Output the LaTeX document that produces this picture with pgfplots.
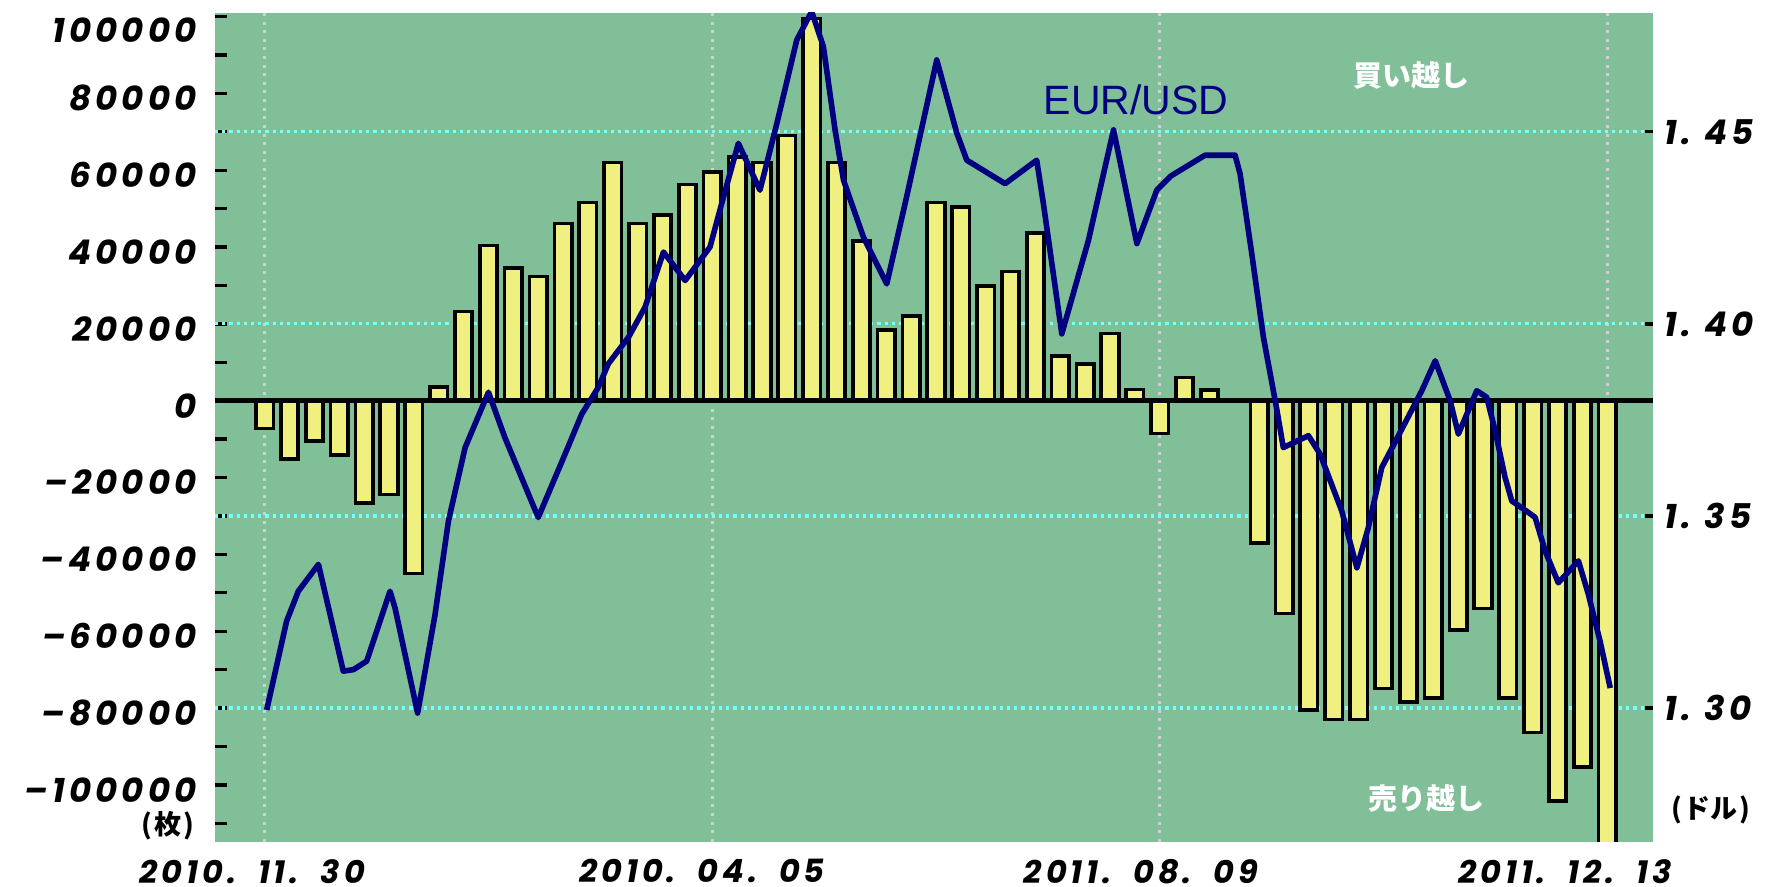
\documentclass[border=0pt]{standalone}
\usepackage{fontspec}
\usepackage{pgfplots}
\usepackage{pgfplotstable}
\pgfplotsset{compat=1.18}
\setmainfont{Liberation Sans}
\newfontfamily\tickfont[LetterSpace=12]{Poppins}
\newfontfamily\jpfont{Noto Sans CJK JP}
\definecolor{bg}{RGB}{128,191,152}
\definecolor{baryel}{RGB}{240,240,128}
\definecolor{navyline}{RGB}{0,0,128}
\definecolor{gridcyan}{RGB}{120,255,255}
\definecolor{gridgray}{RGB}{208,208,208}
\newcommand{\tfy}{\tickfont\bfseries\itshape\fontsize{17}{17}\selectfont}
\newcommand{\tfx}{\tickfont\bfseries\itshape\fontsize{16}{16}\selectfont}

\pgfplotstableread{
x y
0 -7200
1 -15200
2 -10500
3 -14200
4 -26700
5 -24400
6 -45000
7 3600
8 23200
9 40400
10 34600
11 32300
12 46100
13 51600
14 62000
15 46100
16 48400
17 56300
18 59600
19 63500
20 62000
21 69000
22 99500
23 62000
24 41600
25 18400
26 22000
27 51600
28 50500
29 29900
30 33600
31 43700
32 11600
33 9500
34 17500
35 2900
36 -8500
37 6000
38 2800
40 -37000
41 -55400
42 -80600
43 -83000
44 -83000
45 -74900
46 -78400
47 -77300
48 -59700
49 -54100
50 -77300
51 -86400
52 -104200
53 -95300
54 -125000
}\netpos

\pgfplotstableread{
x r
0.08 1.2995
0.88 1.3226
1.35 1.3304
2.16 1.3374
3.16 1.3096
3.57 1.3100
4.10 1.3122
5.04 1.3304
5.24 1.3261
6.15 1.2987
6.38 1.3070
6.85 1.3243
7.39 1.3487
8.06 1.3678
9.00 1.3822
9.66 1.3704
11.00 1.3496
12.08 1.3661
12.75 1.3765
13.42 1.3835
13.82 1.3896
14.63 1.3965
15.30 1.4044
16.04 1.4187
16.91 1.4113
17.51 1.4165
17.91 1.4200
18.38 1.4313
19.05 1.4470
19.92 1.4348
20.60 1.4522
21.40 1.4739
22.00 1.4813
22.47 1.4722
22.94 1.4505
23.28 1.4374
24.08 1.4226
25.02 1.4104
25.82 1.4331
27.03 1.4687
27.84 1.4496
28.24 1.4426
29.78 1.4365
31.05 1.4426
31.32 1.4313
32.06 1.3974
33.13 1.4217
34.14 1.4505
35.08 1.4209
35.88 1.4348
36.45 1.4385
37.82 1.4439
39.03 1.4439
39.23 1.4391
39.70 1.4183
40.17 1.3965
40.70 1.3780
40.97 1.3678
41.98 1.3709
42.45 1.3661
43.32 1.3513
43.93 1.3365
44.39 1.3470
44.93 1.3626
45.60 1.3709
46.54 1.3826
47.08 1.3904
47.68 1.3800
48.01 1.3713
48.75 1.3826
49.15 1.3809
49.49 1.3722
49.89 1.3600
50.16 1.3539
50.83 1.3509
51.10 1.3496
51.50 1.3409
52.03 1.3326
52.84 1.3383
53.24 1.3296
53.71 1.3174
54.12 1.3052
}\eurusd

\begin{document}
\begin{tikzpicture}
\begin{axis}[
  scale only axis, width=719pt, height=414.5pt,
  xmin=-2, xmax=55.84, ymin=-114800, ymax=101000,
  axis background/.style={fill=bg},
  axis line style={draw=none},
  xtick={0,18,36,54}, xticklabels={,,,},
  xmajorgrids,
  x grid style={gridgray, line width=1.6pt, dash pattern=on 1.5pt off 2.8pt},
  xtick style={draw=none},
  xtick pos=bottom,
  extra x ticks={-0.5,17.59,35.25,52.31},
  extra x tick labels={{2010.\hspace{11pt}11.\hspace{11pt}30},{2010.\hspace{11pt}04.\hspace{11pt}05},{2011.\hspace{11pt}08.\hspace{11pt}09},{2011.\hspace{11pt}12.\hspace{11pt}13}},
  extra x tick style={grid=none, xticklabel style={font=\tfx, anchor=north, inner sep=0pt, yshift=-8.6pt}},
  ytick={-100000,-80000,...,100000},
  minor ytick={-110000,-90000,...,90000},
  yticklabels={{–\hspace{2pt}100000},{–\hspace{2pt}80000},{–\hspace{2pt}60000},{–\hspace{2pt}40000},{–\hspace{2pt}20000},0,20000,40000,60000,80000,{\vphantom{0}\smash{\raisebox{-4.5pt}{100000}}}},
  ytick pos=left, tick align=inside,
  major tick length=6pt, minor tick length=6pt,
  ytick style={black, line width=1.65pt},
  minor tick style={black, line width=1.65pt},
  yticklabel style={font=\tfy, anchor=east, inner sep=0pt, xshift=-9pt, yshift=-2.5pt},
  extra y ticks={70000,20000,-30000,-80000},
  extra y tick labels={,,,},
  extra y tick style={grid=major, major tick length=0pt},
  y grid style={gridcyan, line width=1.6pt, dash pattern=on 1.6pt off 2pt},
]
\coordinate (pSW) at (rel axis cs:0,0);
\coordinate (pNE) at (rel axis cs:1,1);
\coordinate (tEUR) at (rel axis cs:0.6405,0.8953);
\coordinate (tBuy) at (rel axis cs:0.8321,0.9237);
\coordinate (tSell) at (rel axis cs:0.8428,0.0515);
\coordinate (tMai) at (rel axis cs:-0.0327,0.0189);
\coordinate (tDoru) at (rel axis cs:1.0403,0.0388);
\addplot[ybar, bar width=0.7, fill=baryel, draw=black, line width=1.85pt] table[x=x, y=y] {\netpos};
\addplot[black, line width=2.35pt] coordinates {(-2,0) (55.84,0)};
\end{axis}
\begin{axis}[
  scale only axis, width=719pt, height=414.5pt,
  xmin=-2, xmax=55.84, ymin=1.2652, ymax=1.481,
  axis line style={draw=none},
  xtick=\empty,
  ytick={1.30,1.35,1.40,1.45},
  yticklabels={{1.\hspace{7pt}30},{1.\hspace{7pt}35},{1.\hspace{7pt}40},{1.\hspace{7pt}45}},
  ytick pos=right, tick align=inside,
  major tick length=4pt,
  ytick style={black, line width=1.65pt},
  yticklabel style={font=\tfy, anchor=west, inner sep=0pt, xshift=5.5pt},
]
\addplot[navyline, line width=2.8pt, line join=round] table[x=x, y=r] {\eurusd};
\end{axis}
\node[font=\fontsize{20.5}{20.5}\selectfont, text=navyline] at (tEUR) {EUR/USD};
\node[font=\jpfont\bfseries\fontsize{14.5}{14.5}\selectfont, text=white] at (tBuy) {買い越し};
\node[font=\jpfont\bfseries\fontsize{14.5}{14.5}\selectfont, text=white] at (tSell) {売り越し};
\node[font=\jpfont\bfseries\fontsize{13.5}{13.5}\selectfont] at (tMai) {(\hspace{1pt}枚\hspace{1pt})};
\node[font=\jpfont\bfseries\fontsize{13.5}{13.5}\selectfont] at (tDoru) {(\hspace{1pt}ドル\hspace{1pt})};
\pgfresetboundingbox
\path[use as bounding box] ([shift={(-107.5pt,-22.15pt)}]pSW) rectangle ([shift={(56pt,6.35pt)}]pNE);
\end{tikzpicture}
\end{document}
